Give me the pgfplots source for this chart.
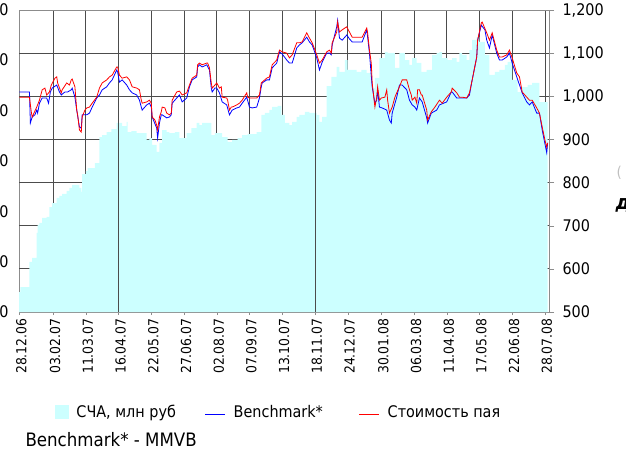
\documentclass[border=0pt]{standalone}
\usepackage{pgfplots}
\pgfplotsset{compat=1.18}
\usepackage{fontspec}
\setmainfont{DejaVu Sans Condensed}
\definecolor{nav}{RGB}{204,255,255}
\definecolor{bm}{RGB}{0,0,255}
\definecolor{nv}{RGB}{255,0,0}
\begin{document}
\begin{tikzpicture}
\begin{axis}[
  at={(0pt,0pt)}, anchor=south west,
  scale only axis, width=530pt, height=302pt,
  xmin=-0.5, xmax=582.5, ymin=0, ymax=1200,
  axis line style={black!45},
  xtick={0,37,73,109,145,181,217,253,289,325,361,398,434,470,506,542,578},
  xticklabels={28.12.06,03.02.07,11.03.07,16.04.07,22.05.07,27.06.07,02.08.07,07.09.07,13.10.07,18.11.07,24.12.07,30.01.08,06.03.08,11.04.08,17.05.08,22.06.08,28.07.08},
  minor x tick num=2,
  xtick pos=bottom, ytick pos=left,
  xticklabel style={rotate=90, anchor=east, yshift=-2pt, font=\fontsize{13.8}{13.8}\selectfont},
  ytick={0,200,...,1200},
  yticklabel style={font=\fontsize{16}{16}\selectfont, xshift=-4pt},
  /pgf/number format/assume math mode=true,
  /pgf/number format/1000 sep={,},
  major y tick style={draw=none},
  tick style={black!45},
  major tick length=3pt, minor tick length=3pt,
  tick align=outside,
  xmajorgrids,
  major grid style={black!70, line width=0.8pt},
  extra y ticks={171.43,342.86,514.29,685.71,857.14,1028.57},
  extra y tick labels={},
  extra y tick style={grid=major, major tick length=0pt},
]
\addplot[const plot, fill=nav, draw=none] coordinates {
(-0.5,79) (1,99) (11,199) (14,215) (19,314) (20,346) (22,354) (25,374) (30,378) (33,417) (36,433) (41,453) (44,461) (47,469) (52,481) (55,493) (58,505) (63,505) (66,493) (68,477) (69,548) (73,560) (75,572) (83,592) (88,695) (91,703) (96,715) (101,727) (107,751) (113,739) (118,755) (119,715) (123,719) (129,711) (134,711) (140,684) (143,691) (146,664) (151,636) (154,672) (157,723) (162,715) (165,711) (171,715) (176,691) (184,711) (189,731) (195,751) (198,743) (201,751) (207,751) (211,703) (215,711) (218,711) (223,695) (229,676) (234,684) (240,691) (245,703) (251,707) (261,715) (266,783) (270,791) (275,803) (278,815) (284,819) (288,783) (292,751) (297,743) (300,755) (305,775) (308,783) (314,795) (319,791) (322,791) (327,783) (330,755) (333,775) (338,898) (343,934) (349,974) (352,954) (358,1001) (361,962) (371,954) (376,962) (382,950) (388,890) (391,930) (396,1009) (402,1033) (405,1029) (413,970) (418,1029) (424,1001) (429,982) (432,1009) (437,990) (442,954) (448,962) (454,1021) (459,1029) (462,1033) (465,1009) (471,1001) (476,1009) (481,994) (484,1029) (487,1021) (492,1001) (495,1041) (498,1081) (503,1093) (506,1073) (512,1021) (517,942) (523,954) (528,962) (534,982) (537,994) (542,922) (548,874) (553,894) (559,902) (564,910) (572,834) (581,834)
} \closedcycle;
\draw[black!70, line width=0.8pt] (axis cs:109,0) -- (axis cs:109,1200);
\draw[black!70, line width=0.8pt] (axis cs:325,0) -- (axis cs:325,1200);
\end{axis}
\begin{axis}[
  at={(0pt,0pt)}, anchor=south west,
  scale only axis, width=530pt, height=302pt,
  xmin=-0.5, xmax=582.5, ymin=500, ymax=1200,
  axis x line=none, axis y line*=right,
  axis line style={black!45},
  ytick={500,600,...,1200},
  tick align=outside, major tick length=5pt, tick style={black!45},
  yticklabel style={font=\fontsize{16}{16}\selectfont, xshift=5pt},
  /pgf/number format/assume math mode=true,
  /pgf/number format/1000 sep={,},
  legend columns=3,
  legend image code/.code={\draw[#1] (0pt,-2pt) -- (20pt,-2pt);},
  legend style={draw=none, fill=none, at={(0.062,-0.331)}, anchor=west,
    font=\fontsize{16}{16}\selectfont,
    /tikz/every odd column/.append style={column sep=6pt},
    /tikz/column 2/.style={column sep=27pt},
    /tikz/column 4/.style={column sep=34pt}},
]
\addlegendimage{legend image code/.code={\fill[nav] (0pt,-6.5pt) rectangle (13pt,6.5pt);}}
\addlegendentry{СЧА, млн руб}
\addplot[bm, line width=0.8pt] coordinates {
(0,1010) (11,1010) (12,938) (14,952) (17,957) (19,968) (20,961) (22,984) (25,996) (30,996) (32,984) (34,1010) (36,1019) (41,1026) (44,1010) (46,1003) (50,1010) (53,1010) (57,1015) (58,1019) (61,998) (63,968) (66,929) (68,926) (69,957) (74,957) (77,961) (80,975) (85,996) (88,1003) (91,1015) (96,1022) (99,1031) (102,1038) (107,1061) (108,1056) (110,1033) (113,1038) (118,1026) (121,1015) (124,1008) (129,1003) (132,991) (134,975) (135,968) (140,980) (143,984) (145,975) (146,952) (151,926) (152,903) (154,938) (156,957) (157,957) (162,950) (165,952) (167,957) (168,984) (173,996) (176,1003) (179,987) (184,996) (187,1022) (190,1038) (195,1045) (196,1068) (198,1073) (201,1068) (206,1073) (209,1061) (211,1019) (212,1010) (215,1019) (217,1019) (220,1008) (223,987) (228,980) (231,957) (234,968) (239,973) (242,975) (245,984) (250,998) (253,975) (256,973) (261,975) (264,996) (266,1022) (267,1031) (272,1038) (275,1038) (278,1066) (283,1077) (286,1103) (289,1098) (294,1084) (297,1077) (300,1077) (305,1112) (308,1119) (311,1124) (316,1137) (319,1126) (322,1119) (327,1089) (330,1061) (333,1079) (338,1100) (341,1100) (343,1096) (344,1119) (349,1161) (350,1176) (352,1135) (355,1130) (360,1142) (363,1133) (366,1126) (371,1126) (374,1126) (377,1126) (382,1154) (383,1137) (385,1100) (388,1022) (391,984) (393,991) (394,1015) (396,975) (399,973) (404,968) (407,945) (409,938) (410,961) (415,998) (418,1026) (421,1026) (426,1015) (429,991) (432,980) (435,975) (437,968) (440,996) (443,987) (448,950) (449,938) (453,961) (459,968) (462,980) (470,987) (475,1010) (476,1010) (481,996) (484,996) (492,996) (495,1003) (498,1038) (503,1091) (504,1130) (508,1165) (512,1154) (514,1130) (517,1112) (520,1142) (525,1100) (528,1084) (531,1084) (536,1091) (539,1100) (542,1077) (547,1045) (553,1008) (558,987) (561,980) (564,987) (569,961) (572,961) (575,922) (580,869) (581,892)
};
\addlegendentry{Benchmark*}
\addplot[nv, line width=0.8pt] coordinates {
(0,998) (11,998) (13,964) (14,952) (19,975) (22,991) (25,1015) (28,1019) (30,1003) (33,1010) (35,1026) (39,1042) (41,1045) (42,1031) (46,1008) (47,1015) (52,1031) (55,1026) (57,1038) (58,1040) (61,1022) (63,968) (64,957) (66,922) (68,917) (69,952) (72,968) (74,973) (77,975) (80,984) (85,998) (88,1019) (91,1031) (96,1038) (99,1045) (102,1049) (107,1068) (108,1068) (110,1049) (113,1042) (118,1045) (121,1038) (124,1022) (129,1019) (132,1015) (134,991) (135,984) (140,987) (143,991) (145,984) (146,952) (149,945) (151,933) (152,922) (154,952) (156,964) (157,975) (160,973) (162,961) (165,957) (167,961) (168,991) (173,1010) (176,1012) (179,1003) (184,1008) (187,1026) (190,1042) (195,1049) (196,1073) (198,1077) (201,1073) (206,1077) (207,1077) (209,1066) (211,1031) (212,1019) (215,1026) (217,1031) (220,1019) (222,1022) (223,998) (228,996) (229,991) (231,968) (233,975) (234,975) (239,980) (242,984) (245,991) (250,1008) (251,998) (253,996) (256,996) (261,996) (264,1003) (266,1031) (267,1033) (272,1042) (275,1045) (278,1073) (283,1084) (286,1107) (289,1103) (294,1100) (297,1089) (300,1096) (305,1124) (308,1124) (311,1126) (316,1147) (319,1135) (322,1124) (327,1096) (330,1077) (333,1084) (338,1103) (341,1107) (343,1100) (344,1124) (349,1149) (350,1172) (352,1149) (355,1154) (360,1161) (363,1149) (366,1137) (371,1137) (374,1137) (377,1137) (382,1158) (383,1147) (385,1107) (387,1077) (388,1031) (391,975) (393,998) (394,1022) (396,991) (398,996) (402,998) (404,1015) (405,991) (407,961) (410,975) (413,998) (415,1008) (418,1022) (421,1038) (426,1038) (429,1015) (431,1003) (432,991) (435,998) (437,984) (438,1015) (440,1015) (442,1003) (443,1003) (448,968) (449,945) (453,964) (457,975) (462,991) (465,984) (470,998) (475,1010) (476,1019) (481,1008) (484,998) (487,998) (492,996) (495,1008) (498,1038) (503,1091) (504,1130) (508,1170) (509,1172) (514,1147) (517,1130) (520,1147) (525,1107) (528,1091) (531,1091) (536,1096) (539,1107) (542,1089) (547,1054) (550,1045) (553,1010) (558,998) (561,991) (564,991) (569,973) (572,961) (575,929) (578,899) (580,882) (581,892)
};
\addlegendentry{Стоимость пая}
\end{axis}
\node[anchor=west, font=\fontsize{18.5}{18.5}\selectfont] at (3pt,-128pt) {Benchmark* - MMVB};
\node[anchor=west, text=black!25, font=\fontsize{15}{15}\selectfont] at (594pt,139pt) {(};
\node[anchor=west, font=\fontsize{20}{20}\selectfont\bfseries\itshape] at (593pt,107pt) {доход};
\pgfresetboundingbox
\useasboundingbox (-19pt,-141pt) rectangle (607pt,312pt);
\end{tikzpicture}
\end{document}
